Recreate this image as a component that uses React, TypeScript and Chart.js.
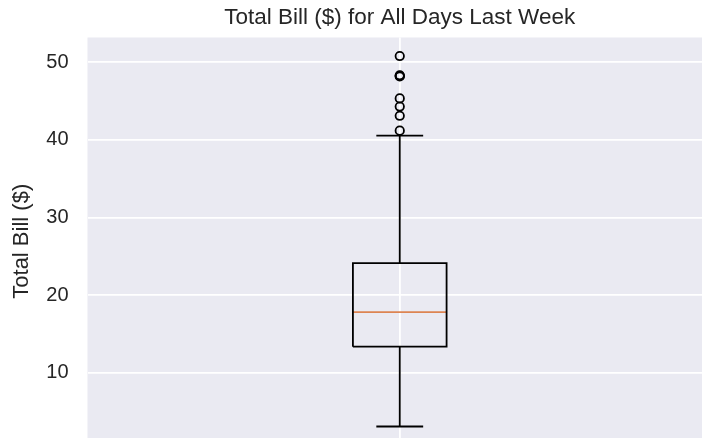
import React, { useEffect, useRef } from "react";
import { Chart, registerables } from "chart.js";

Chart.register(...registerables);

// ---- data ----
const TITLE = "Total Bill ($) for All Days Last Week";
const Y_LABEL = "Total Bill ($)";
const BOX_POSITIONS = [1];
const WHISKER_LOW = [3.07];
const Q1 = [13.35];
const MEDIAN = [17.8];
const Q3 = [24.13];
const WHISKER_HIGH = [40.55];
const OUTLIERS = [41.19, 43.11, 44.3, 45.35, 48.17, 48.27, 48.33, 50.81];
const Y_TICKS = [10, 20, 30, 40, 50];
const X_TICKS = [1];

// ---- style ----
const FONT = "'Liberation Sans', Arial, sans-serif";
const TEXT = "#262626";
const BG = "#EAEAF2";
const BOX_WIDTH = 0.15;
const LINE_W = 1.8;
const MEDIAN_COLOR = "#DD8452";

const lineDs = (pts: { x: number; y: number }[], color: string) => ({
  type: "scatter" as const,
  data: pts,
  showLine: true,
  borderColor: color,
  borderWidth: LINE_W,
  pointRadius: 0,
  pointHoverRadius: 0,
  fill: false,
  tension: 0,
});

export default function App() {
  const ref = useRef<HTMLCanvasElement | null>(null);

  useEffect(() => {
    document.body.style.overflow = "hidden";
    const canvas = ref.current;
    if (!canvas) return;

    const allVals = [...WHISKER_LOW, ...WHISKER_HIGH, ...OUTLIERS];
    const dMin = Math.min(...allVals);
    const dMax = Math.max(...allVals);
    const margin = (dMax - dMin) * 0.05;

    const datasets: any[] = [];
    BOX_POSITIONS.forEach((p, i) => {
      const l = p - BOX_WIDTH / 2;
      const r = p + BOX_WIDTH / 2;
      const cl = p - BOX_WIDTH / 4;
      const cr = p + BOX_WIDTH / 4;
      datasets.push(
        lineDs(
          [
            { x: l, y: Q1[i] },
            { x: r, y: Q1[i] },
            { x: r, y: Q3[i] },
            { x: l, y: Q3[i] },
            { x: l, y: Q1[i] },
          ],
          "#000000"
        )
      );
      datasets.push(lineDs([{ x: p, y: Q1[i] }, { x: p, y: WHISKER_LOW[i] }], "#000000"));
      datasets.push(lineDs([{ x: p, y: Q3[i] }, { x: p, y: WHISKER_HIGH[i] }], "#000000"));
      datasets.push(lineDs([{ x: cl, y: WHISKER_LOW[i] }, { x: cr, y: WHISKER_LOW[i] }], "#000000"));
      datasets.push(lineDs([{ x: cl, y: WHISKER_HIGH[i] }, { x: cr, y: WHISKER_HIGH[i] }], "#000000"));
      datasets.push(lineDs([{ x: l, y: MEDIAN[i] }, { x: r, y: MEDIAN[i] }], MEDIAN_COLOR));
      datasets.push({
        type: "scatter",
        data: OUTLIERS.map((v) => ({ x: p, y: v })),
        pointStyle: "circle",
        pointRadius: 4.2,
        pointHoverRadius: 4.2,
        pointBackgroundColor: "rgba(0,0,0,0)",
        pointBorderColor: "#000000",
        pointBorderWidth: 1.8,
        showLine: false,
      });
    });

    const bgPlugin = {
      id: "bgPlugin",
      beforeDraw(chart: any) {
        const { ctx, chartArea, width, height } = chart;
        ctx.save();
        ctx.fillStyle = "#ffffff";
        ctx.fillRect(0, 0, width, height);
        ctx.fillStyle = BG;
        ctx.fillRect(chartArea.left, chartArea.top, chartArea.right - chartArea.left, chartArea.bottom - chartArea.top);
        ctx.restore();
      },
    };

    const chart = new Chart(canvas, {
      type: "scatter",
      data: { datasets },
      plugins: [bgPlugin],
      options: {
        animation: false,
        responsive: false,
        maintainAspectRatio: false,
        layout: { autoPadding: false, padding: { top: 0, left: 0, right: 0, bottom: 1 } },
        plugins: {
          legend: { display: false },
          tooltip: { enabled: false },
          title: {
            display: true,
            text: TITLE,
            fullSize: false,
            color: TEXT,
            font: { family: FONT, size: 22.5, weight: "normal" as any },
            padding: { top: 4.4, bottom: 6.1 },
          },
        },
        scales: {
          x: {
            type: "linear",
            min: 0.5,
            max: 1.5,
            border: { display: false },
            grid: { color: "#ffffff", lineWidth: LINE_W, drawTicks: false },
            ticks: { display: false },
            afterBuildTicks: (s: any) => {
              s.ticks = X_TICKS.map((v) => ({ value: v }));
            },
            afterFit: (s: any) => {
              s.height = 0;
              s.paddingLeft = 0;
              s.paddingRight = 0;
            },
          },
          y: {
            type: "linear",
            min: dMin - margin,
            max: dMax + margin,
            border: { display: false },
            grid: { color: "#ffffff", lineWidth: LINE_W, drawTicks: false },
            ticks: {
              color: TEXT,
              font: { family: FONT, size: 20 },
              padding: 19,
            },
            afterBuildTicks: (s: any) => {
              s.ticks = Y_TICKS.map((v) => ({ value: v }));
            },
            afterFit: (s: any) => {
              s.width = 87.5;
              s.paddingTop = 0;
              s.paddingBottom = 0;
            },
            title: {
              display: true,
              text: Y_LABEL,
              color: TEXT,
              font: { family: FONT, size: 22 },
              padding: { top: 8.8, bottom: 0 },
            },
          },
        },
      },
    });

    return () => chart.destroy();
  }, []);

  return (
    <div style={{ position: "fixed", left: 0, top: 0, width: 712, height: 446, overflow: "hidden" }}>
      <canvas ref={ref} width={712} height={446} style={{ width: 712, height: 446, display: "block" }} />
    </div>
  );
}
